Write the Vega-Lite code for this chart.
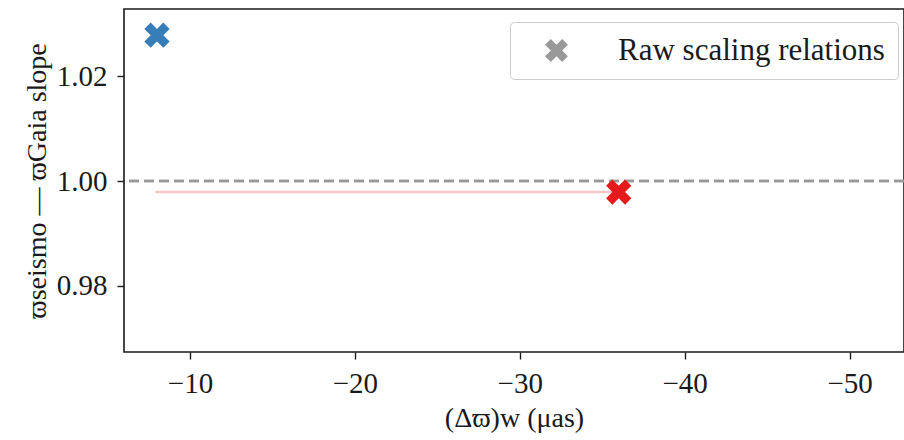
{
  "$schema": "https://vega.github.io/schema/vega-lite/v6.json",
  "width": 780,
  "height": 343,
  "autosize": {"type": "none"},
  "padding": {"left": 124, "top": 9, "right": 0, "bottom": 88},
  "background": "white",
  "config": {
    "font": "Liberation Serif",
    "view": {"stroke": "#1a1a1a", "strokeWidth": 1.6},
    "axis": {
      "grid": false,
      "domain": false,
      "tickColor": "#1a1a1a",
      "tickSize": 7,
      "tickWidth": 1.4,
      "labelFont": "Liberation Serif",
      "labelFontSize": 29,
      "labelColor": "#1a1a1a",
      "labelPadding": 10,
      "titleFont": "Liberation Serif",
      "titleFontSize": 28,
      "titleFontWeight": "normal",
      "titleColor": "#1a1a1a"
    }
  },
  "data": {
    "values": [
      {"sample": "A", "offset": -8, "slope": 1.0278, "lo": -8, "hi": -8},
      {"sample": "B", "offset": -36, "slope": 0.9979, "lo": -7.9, "hi": -35.9}
    ]
  },
  "layer": [
    {
      "mark": {"type": "rule", "strokeDash": [10, 5], "color": "#999999", "strokeWidth": 2.5},
      "encoding": {"y": {"datum": 1.0, "type": "quantitative"}}
    },
    {
      "transform": [{"filter": "datum.sample === 'B'"}],
      "mark": {"type": "rule", "color": "#e41a1c", "opacity": 0.25, "strokeWidth": 2.5},
      "encoding": {
        "x": {"field": "lo", "type": "quantitative"},
        "x2": {"field": "hi"},
        "y": {"field": "slope", "type": "quantitative"}
      }
    },
    {
      "mark": {
        "type": "point",
        "filled": true,
        "opacity": 1,
        "size": 640,
        "strokeWidth": 0
      },
      "encoding": {
        "x": {
          "field": "offset",
          "type": "quantitative",
          "scale": {"domain": [-53.3, -6], "reverse": true, "nice": false, "zero": false},
          "axis": {"values": [-10, -20, -30, -40, -50], "format": "d", "title": "(Δϖ)w (μas)", "titlePadding": 6}
        },
        "y": {
          "field": "slope",
          "type": "quantitative",
          "scale": {"domain": [0.9674, 1.0328], "nice": false, "zero": false},
          "axis": {"values": [0.98, 1.0, 1.02], "format": ".2f", "title": "ϖseismo — ϖGaia slope", "titlePadding": 5}
        },
        "color": {
          "field": "sample",
          "type": "nominal",
          "scale": {"domain": ["A", "B"], "range": ["#377eb8", "#e41a1c"]},
          "legend": null
        },
        "shape": {
          "datum": "Raw scaling relations",
          "type": "nominal",
          "scale": {"range": ["M-0.5,-1L0,-0.5L0.5,-1L1,-0.5L0.5,0L1,0.5L0.5,1L0,0.5L-0.5,1L-1,0.5L-0.5,0L-1,-0.5Z"]},
          "legend": {
            "title": null,
            "orient": "none",
            "legendX": 386,
            "legendY": 13,
            "strokeColor": "#cccccc",
            "fillColor": "white",
            "cornerRadius": 4,
            "padding": 13,
            "labelFont": "Liberation Serif",
            "labelFontSize": 31,
            "labelLimit": 0,
            "labelColor": "#1a1a1a",
            "labelOffset": 46,
            "symbolSize": 520,
            "symbolOffset": 18,
            "symbolFillColor": "#999999",
            "symbolStrokeWidth": 0,
            "symbolOpacity": 1
          }
        }
      }
    }
  ]
}
